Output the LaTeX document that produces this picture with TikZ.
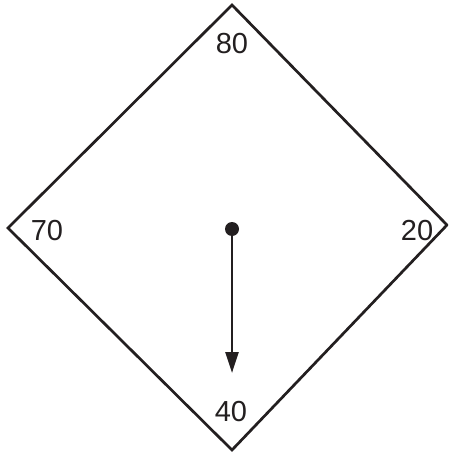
\documentclass[tikz,border=0pt]{standalone}
\usepackage{fontspec}
\setmainfont{Liberation Sans}
\usetikzlibrary{arrows.meta}
\definecolor{ink}{HTML}{231F20}
\tikzset{
  lbl/.style={font=\fontsize{29}{30}\selectfont, text=ink, inner sep=0pt},
  frame/.style={draw=ink, line width=2.7pt, line join=miter},
  needle/.style={draw=ink, line width=2.5pt, -{Triangle[length=21pt,width=13pt]}}
}
\begin{document}
\begin{tikzpicture}[x=1pt,y=-1pt]
\useasboundingbox (0,0) rectangle (448,452);
\clip (0,0) rectangle (448,452);
\coordinate (T) at (232,5);
\coordinate (L) at (8,228);
\coordinate (R) at (447,225);
\coordinate (B) at (232,450);
\draw[frame] (T) -- (R) -- (B) -- (L) -- cycle;
\node[lbl] (n80) at (232,44) {80};
\node[lbl] (n70) at (47,231) {70};
\node[lbl] (n20) at (417,231) {20};
\node[lbl] (n40) at (231,412) {40};
\fill[ink] (232,229) circle (7) coordinate (hub);
\coordinate (tip) at (232,373);
\draw[needle] (hub) -- (tip);
\end{tikzpicture}
\end{document}
